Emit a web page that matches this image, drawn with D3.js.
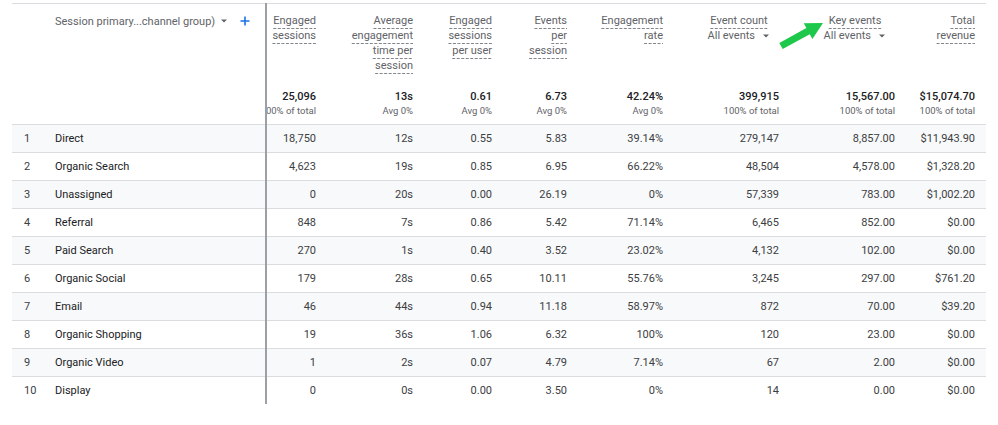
<!DOCTYPE html>
<html>
<head>
<meta charset="utf-8">
<script src="https://cdn.jsdelivr.net/npm/d3@7"></script>
<style>
  html, body { margin: 0; padding: 0; background: #fff; }
  svg { display: block; font-family: Roboto, "Noto Sans", Arial, sans-serif; }
</style>
</head>
<body>
<svg id="chart" width="998" height="425"></svg>
<script>
// ---------------- DATA ----------------
const dimensionLabel = "Session primary...channel group)";
const channels = ["Direct", "Organic Search", "Unassigned", "Referral", "Paid Search",
  "Organic Social", "Email", "Organic Shopping", "Organic Video", "Display"];
const engagedSessions = [18750, 4623, 0, 848, 270, 179, 46, 19, 1, 0];
const avgEngagementTime = [12, 19, 20, 7, 1, 28, 44, 36, 2, 0];
const engagedPerUser = [0.55, 0.85, 0.00, 0.86, 0.40, 0.65, 0.94, 1.06, 0.07, 0.00];
const eventsPerSession = [5.83, 6.95, 26.19, 5.42, 3.52, 10.11, 11.18, 6.32, 4.79, 3.50];
const engagementRate = [39.14, 66.22, 0, 71.14, 23.02, 55.76, 58.97, 100, 7.14, 0];
const eventCount = [279147, 48504, 57339, 6465, 4132, 3245, 872, 120, 67, 14];
const keyEvents = [8857, 4578, 783, 852, 102, 297, 70, 23, 2, 0];
const totalRevenue = [11943.90, 1328.20, 1002.20, 0, 0, 761.20, 39.20, 0, 0, 0];

const headerLines = [
  ["Engaged", "sessions"],
  ["Average", "engagement", "time per", "session"],
  ["Engaged", "sessions", "per user"],
  ["Events", "per", "session"],
  ["Engagement", "rate"],
  ["Event count"],
  ["Key events"],
  ["Total", "revenue"]
];
const headerDropdown = [null, null, null, null, null, "All events", "All events", null];
const totals = [25096, 13, 0.61, 6.73, 42.24, 399915, 15567.00, 15074.70];
const totalCaptions = ["100% of total", "Avg 0%", "Avg 0%", "Avg 0%", "Avg 0%",
  "100% of total", "100% of total", "100% of total"];

// ---------------- FORMATS ----------------
const pct = v => (v === 0 || v === 100) ? v + "%" : v.toFixed(2) + "%";
const formats = [
  d3.format(",d"),
  v => v + "s",
  d3.format(".2f"),
  d3.format(".2f"),
  pct,
  d3.format(",d"),
  d3.format(",.2f"),
  v => "$" + d3.format(",.2f")(v)
];
const series = [engagedSessions, avgEngagementTime, engagedPerUser, eventsPerSession,
  engagementRate, eventCount, keyEvents, totalRevenue];

// ---------------- LAYOUT ----------------
const W = 998, H = 425;
const tableLeft = 12, tableRight = 986;
const topY = 3, headerBottom = 124, tableBottom = 404;
const dividerX = 266;
const colRight = [316, 413, 492, 567, 663, 779, 895, 975];
const rankX = 24, nameX = 55;

const svg = d3.select("#chart");
svg.append("rect").attr("width", W).attr("height", H).attr("fill", "#fff");

const y = d3.scaleBand()
  .domain(d3.range(channels.length))
  .range([headerBottom, tableBottom])
  .paddingInner(0).paddingOuter(0);

// row backgrounds
svg.append("g").selectAll("rect")
  .data(channels)
  .join("rect")
  .attr("x", tableLeft)
  .attr("width", tableRight - tableLeft)
  .attr("y", (d, i) => y(i))
  .attr("height", y.bandwidth())
  .attr("fill", (d, i) => i % 2 === 0 ? "#f8f9fa" : "#ffffff");

// horizontal rules
const rules = [topY, headerBottom].concat(d3.range(channels.length - 1).map(i => y(i) + y.bandwidth()));
svg.append("g").selectAll("line")
  .data(rules)
  .join("line")
  .attr("x1", tableLeft).attr("x2", tableRight)
  .attr("y1", d => d + 0.5).attr("y2", d => d + 0.5)
  .attr("stroke", "#dadce0").attr("stroke-width", 1);

// ---------------- HEADER ----------------
const hdr = svg.append("g").attr("font-size", 11).attr("fill", "#5f6368");
hdr.append("text")
  .attr("x", nameX).attr("y", 21).attr("dy", "0.35em")
  .text(dimensionLabel);
// dropdown triangle
const tri = (cx, cy) => `M${cx - 3},${cy - 1.5}L${cx + 3},${cy - 1.5}L${cx},${cy + 1.5}Z`;
hdr.append("path").attr("d", tri(224, 21)).attr("fill", "#5f6368");
// plus sign
hdr.append("path")
  .attr("d", "M245,16.5V25.5M240.5,21H249.5")
  .attr("stroke", "#1a73e8").attr("stroke-width", 1.6).attr("fill", "none");

const lineY = k => 20 + 15 * k;
headerLines.forEach((lines, c) => {
  const hasDrop = headerDropdown[c] != null;
  const xr = hasDrop ? colRight[c] - 9 : colRight[c];
  lines.forEach((txt, k) => {
    const t = hdr.append("text")
      .attr("text-anchor", hasDrop ? "middle" : "end")
      .attr("y", lineY(k)).attr("dy", "0.35em")
      .text(txt);
    let x0, x1;
    const w = t.node().getComputedTextLength();
    if (hasDrop) {
      // centered above dropdown block
      t.attr("x", xr - 31);
      x0 = xr - 31 - w / 2; x1 = xr - 31 + w / 2;
    } else {
      t.attr("x", xr);
      x0 = xr - w; x1 = xr;
    }
    hdr.append("line")
      .attr("x1", x0).attr("x2", x1)
      .attr("y1", lineY(k) + 8.5).attr("y2", lineY(k) + 8.5)
      .attr("stroke", "#80868b").attr("stroke-width", 1)
      .attr("stroke-dasharray", "3,1.5");
  });
  if (hasDrop) {
    hdr.append("text")
      .attr("x", xr - 15).attr("y", lineY(1)).attr("dy", "0.35em")
      .attr("text-anchor", "end")
      .text(headerDropdown[c]);
    hdr.append("path").attr("d", tri(xr - 4, lineY(1) + 1)).attr("fill", "#5f6368");
  }
});

// totals
svg.append("clipPath").attr("id", "clipTotals")
  .append("rect").attr("x", dividerX + 1).attr("y", 0).attr("width", W).attr("height", H);
const tot = svg.append("g").attr("clip-path", "url(#clipTotals)");
totals.forEach((v, c) => {
  tot.append("text")
    .attr("x", colRight[c]).attr("y", 96).attr("dy", "0.35em")
    .attr("text-anchor", "end")
    .attr("font-size", 11).attr("font-weight", 500)
    .attr("fill", "#202124")
    .text(formats[c](v));
  tot.append("text")
    .attr("x", colRight[c]).attr("y", 111).attr("dy", "0.35em")
    .attr("text-anchor", "end")
    .attr("font-size", 9.5)
    .attr("fill", "#5f6368")
    .text(totalCaptions[c]);
});

// ---------------- BODY ----------------
const body = svg.append("g").attr("font-size", 11).attr("fill", "#202124");
const rows = body.selectAll("g.row")
  .data(channels)
  .join("g").attr("class", "row")
  .attr("transform", (d, i) => `translate(0,${y(i) + y.bandwidth() / 2})`);
rows.append("text")
  .attr("x", rankX).attr("dy", "0.35em").attr("fill", "#3c4043")
  .text((d, i) => i + 1);
rows.append("text")
  .attr("x", nameX).attr("dy", "0.35em")
  .text(d => d);
series.forEach((arr, c) => {
  rows.append("text")
    .attr("x", colRight[c]).attr("dy", "0.35em")
    .attr("text-anchor", "end")
    .attr("fill", "#3c4043")
    .text((d, i) => formats[c](arr[i]));
});

// vertical divider
svg.append("rect")
  .attr("x", dividerX - 1).attr("y", topY)
  .attr("width", 2).attr("height", tableBottom - topY)
  .attr("fill", "#9aa0a6");

// ---------------- GREEN ARROW (annotation) ----------------
(function () {
  const tail = [781, 46], tip = [823, 23];
  const dx = tip[0] - tail[0], dy = tip[1] - tail[1];
  const len = Math.hypot(dx, dy);
  const ux = dx / len, uy = dy / len, nx = -uy, ny = ux;
  const headLen = 17, shaftW = 3.5, headW = 9;
  const bx = tip[0] - ux * headLen, by = tip[1] - uy * headLen;
  const pts = [
    [tail[0] + nx * shaftW, tail[1] + ny * shaftW],
    [bx + nx * shaftW, by + ny * shaftW],
    [bx + nx * headW, by + ny * headW],
    tip,
    [bx - nx * headW, by - ny * headW],
    [bx - nx * shaftW, by - ny * shaftW],
    [tail[0] - nx * shaftW, tail[1] - ny * shaftW]
  ];
  svg.append("path")
    .attr("d", d3.line()(pts) + "Z")
    .attr("fill", "#1ec84a");
})();
</script>
</body>
</html>
